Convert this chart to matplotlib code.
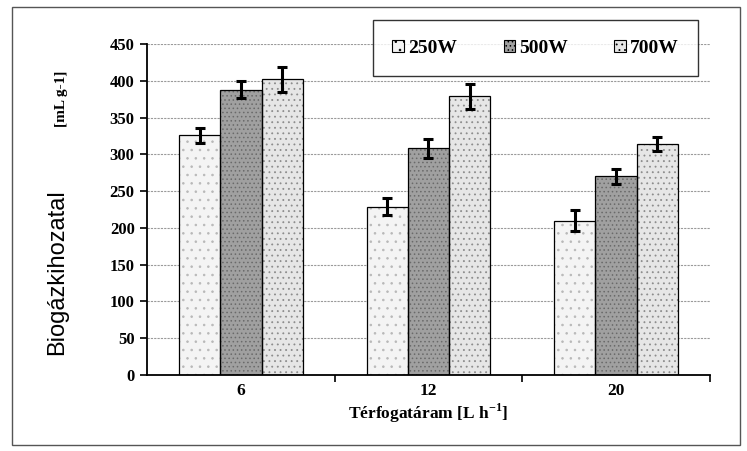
import numpy as np
import matplotlib
matplotlib.use('Agg')
import matplotlib.pyplot as plt
from matplotlib.patches import Rectangle

# data
flows = ['6', '12', '20']
series = ['250W', '500W', '700W']
vals_250 = [326, 229, 210]
vals_500 = [388, 308, 270]
vals_700 = [402, 379, 314]
err_250 = [10, 11, 14]
err_500 = [11, 13, 10]
err_700 = [17, 17, 10]

plt.rcParams['hatch.linewidth'] = 0.6
plt.rcParams['mathtext.fontset'] = 'custom'
plt.rcParams['mathtext.rm'] = 'Liberation Serif:bold'
plt.rcParams['mathtext.bf'] = 'Liberation Serif:bold'
serif = 'Liberation Serif'

fig = plt.figure(figsize=(7.47, 4.51), dpi=100)
ax = fig.add_axes([0.197, 0.1685, 0.753, 0.734])

x = np.arange(len(flows))
w = 0.22
styles = [
    dict(facecolor='#f4f4f4', hatch='..', edgecolor='#b8b8b8'),
    dict(facecolor='#a0a0a0', hatch='....', edgecolor='#6a6a6a'),
    dict(facecolor='#e6e6e6', hatch='...', edgecolor='#8c8c8c'),
]
data = [(vals_250, err_250), (vals_500, err_500), (vals_700, err_700)]
handles = []
for i, ((v, e), st) in enumerate(zip(data, styles)):
    pos = x + (i - 1) * w
    ax.bar(pos, v, w, facecolor=st['facecolor'], hatch=st['hatch'],
           edgecolor=st['edgecolor'], linewidth=0, zorder=2)
    # black outline drawn separately so hatch keeps its own colour
    ax.bar(pos, v, w, fill=False, edgecolor='black', linewidth=0.9, zorder=3)
    ax.errorbar(pos, v, yerr=e, fmt='none', ecolor='black', elinewidth=2.2,
                capsize=3.5, capthick=2.2, zorder=4)
    handles.append(Rectangle((0, 0), 1, 1, facecolor=st['facecolor'],
                             hatch=st['hatch'], edgecolor='black', linewidth=0.8))

ax.set_xlim(-0.5, 2.5)
ax.set_ylim(0, 450)
ax.set_yticks(np.arange(0, 451, 50))
ax.yaxis.grid(True, color='#9a9a9a', linestyle=(0, (2, 1)), linewidth=0.8, zorder=0)
ax.set_axisbelow(True)

ax.set_xticks(x)
ax.set_xticklabels(flows, fontfamily=serif, fontweight='bold', fontsize=12.5)
ax.tick_params(axis='x', length=0, pad=6)
ax.set_xticks([0.5, 1.5, 2.5], minor=True)
ax.tick_params(axis='x', which='minor', length=5, width=1.2, direction='out')
ax.tick_params(axis='y', length=5, width=1.2, direction='out', pad=4)
for lab in ax.get_yticklabels():
    lab.set_fontfamily(serif)
    lab.set_fontweight('bold')
    lab.set_fontsize(12)

for s in ['top', 'right']:
    ax.spines[s].set_visible(False)
for s in ['left', 'bottom']:
    ax.spines[s].set_linewidth(1.3)

ax.set_xlabel('Térfogatáram [L h$^{-1}$]', fontfamily=serif,
              fontweight='bold', fontsize=12.5, labelpad=2)

fig.text(0.077, 0.397, 'Biogázkihozatal', rotation=90, ha='center', va='center',
         fontfamily='Liberation Sans', fontsize=17)
fig.text(0.082, 0.782, '[mL g-1]', rotation=90, ha='center', va='center',
         fontfamily=serif, fontweight='bold', fontsize=11)

leg = fig.legend(handles, series, loc='center', bbox_to_anchor=(0.717, 0.893),
                 ncol=3, frameon=True, fancybox=False, edgecolor='black',
                 prop=dict(family=serif, weight='bold', size=14),
                 handlelength=0.6, handleheight=0.6, handletextpad=0.2,
                 columnspacing=2.4, borderpad=1.0)
leg.get_frame().set_linewidth(1.0)

# outer frame around the whole chart
fig.patches.append(Rectangle((0.016, 0.013), 0.975, 0.972, transform=fig.transFigure,
                             fill=False, edgecolor='#555555', linewidth=1.0))

fig.savefig('out.png', dpi=100)
